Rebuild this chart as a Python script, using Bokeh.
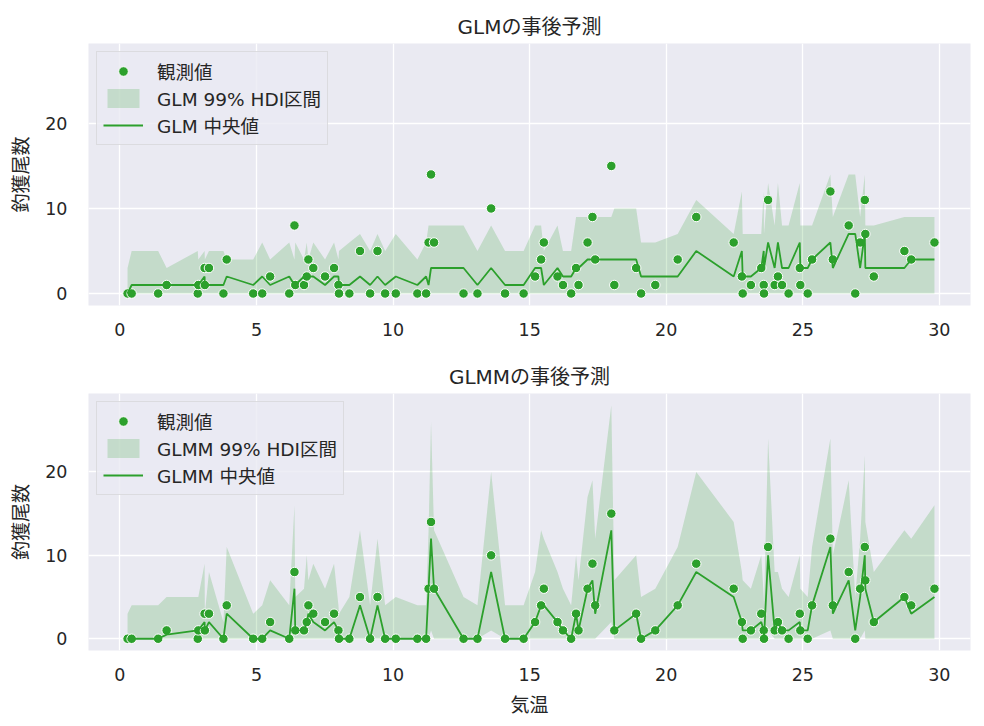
from bokeh.plotting import figure
from bokeh.layouts import column
from bokeh.models import FixedTicker, Legend, LegendItem, ColumnDataSource, Range1d
from bokeh.embed import file_html
from bokeh.resources import INLINE

# ---- data ----
temp = [0.28, 0.43, 1.40, 1.71, 2.85, 2.87, 3.10, 3.11, 3.26, 3.79,
        3.91, 4.88, 5.21, 5.50, 6.20, 6.39, 6.42, 6.74, 6.84, 6.90,
        7.08, 7.51, 7.84, 8.00, 8.02, 8.40, 8.79, 9.16, 9.43, 9.71,
        10.10, 10.89, 11.21, 11.30, 11.39, 11.50, 12.58, 13.09, 13.59, 14.10,
        14.78, 15.20, 15.42, 15.52, 16.02, 16.22, 16.52, 16.70, 16.79, 17.12,
        17.30, 17.40, 17.99, 18.10, 18.90, 19.08, 19.60, 20.42, 21.10, 22.47,
        22.77, 22.80, 23.10, 23.48, 23.57, 23.58, 23.73, 23.97, 24.09, 24.24,
        24.48, 24.89, 24.91, 25.18, 25.34, 26.01, 26.10, 26.68, 26.92, 27.10,
        27.27, 27.29, 27.60, 28.72, 28.97, 29.82]
catch = [0, 0, 0, 1, 0, 1, 3, 1, 3, 0,
         4, 0, 0, 2, 0, 8, 1, 1, 2, 4,
         3, 2, 3, 1, 0, 0, 5, 0, 5, 0,
         0, 0, 0, 6, 14, 6, 0, 0, 10, 0,
         0, 2, 4, 6, 2, 1, 0, 3, 1, 6,
         9, 4, 15, 1, 3, 0, 1, 4, 9, 6,
         2, 0, 1, 3, 1, 0, 11, 1, 2, 1,
         0, 3, 1, 0, 4, 12, 4, 8, 0, 6,
         11, 7, 2, 5, 4, 6]
glm_med = [0, 1, 1, 1, 1, 1, 2, 1, 1, 1,
           2, 1, 2, 1, 2, 1, 1, 2, 2, 2,
           2, 1, 2, 2, 1, 1, 2, 1, 2, 1,
           2, 1, 2, 1, 3, 3, 3, 1, 3, 1,
           1, 3, 3, 1, 3, 2, 2, 3, 3, 4,
           4, 4, 4, 4, 4, 2, 2, 2, 5, 2,
           5, 2, 2, 3, 5, 3, 6, 3, 6, 3,
           3, 6, 3, 3, 4, 6, 3, 7, 7, 3,
           7, 3, 3, 3, 4, 4]
glm_hi = [3, 5, 5, 3, 5, 4, 5, 4, 5, 5,
          4, 4, 6, 4, 6, 4, 6, 4, 6, 4,
          6, 4, 6, 4, 5, 6, 7, 5, 7, 5,
          7, 4, 6, 8, 8, 8, 8, 5, 8, 5,
          5, 8, 8, 5, 8, 5, 5, 9, 9, 9,
          9, 9, 9, 10, 10, 6, 6, 7, 11, 7,
          12, 7, 7, 7, 12, 7, 13, 8, 13, 8,
          8, 13, 8, 8, 8, 14, 9, 14, 14, 9,
          14, 8, 8, 9, 9, 9]
glm_lo = [0, 0, 0, 0, 0, 0, 0, 0, 0, 0,
          0, 0, 0, 0, 0, 0, 0, 0, 0, 0,
          0, 0, 0, 0, 0, 0, 0, 0, 0, 0,
          0, 0, 0, 0, 0, 0, 0, 0, 0, 0,
          0, 0, 0, 0, 0, 0, 0, 0, 0, 0,
          0, 0, 0, 0, 0, 0, 0, 0, 0, 0,
          0, 0, 0, 0, 0, 0, 0, 0, 0, 0,
          0, 0, 0, 0, 0, 0, 0, 0, 0, 0,
          0, 0, 0, 0, 0, 0]
glmm_med = [0, 0, 0, 0.5, 1, 1, 2, 1, 2, 0,
            3, 0, 0, 1, 0, 6, 1, 1, 2, 3,
            2, 1, 2, 1, 0, 0, 4, 0, 4, 0,
            0, 0, 0, 6, 12, 6, 0, 0, 8, 0,
            0, 2, 4, 4, 2, 1, 0, 3, 1, 6,
            7, 3, 13, 1, 3, 0, 1, 4, 8, 5,
            2, 1, 1, 2, 1, 0, 10, 1, 2, 1,
            1, 2, 1, 1, 4, 11, 3, 7, 1, 5,
            10, 6, 2, 5, 3, 5]
glmm_hi = [3, 4, 4, 5, 5, 5, 9, 3, 8, 2,
           11, 3, 4, 7, 4, 16, 5, 6, 10, 7,
           9, 6, 9, 4, 3, 5, 13, 4, 12, 4,
           5, 4, 4, 13, 26, 13, 5, 4, 20, 4,
           4, 8, 13, 12, 8, 6, 4, 10, 7, 17,
           19, 12, 28, 7, 10, 5, 6, 11, 20, 14,
           8, 7, 6, 10, 5, 4, 24, 8, 8, 6,
           5, 10, 6, 5, 11, 24, 10, 19, 5, 12,
           22, 14, 8, 13, 12, 16]
glmm_lo = [0, 0, 0, 0, 0, 0, 0, 0, 0, 0,
           0, 0, 0, 0, 0, 0, 0, 0, 0, 0,
           0, 0, 0, 0, 0, 0, 0, 0, 0, 0,
           0, 0, 0, 0, 1, 0, 0, 0, 1, 0,
           0, 0, 0, 0, 0, 0, 0, 0, 0, 0,
           0, 0, 2, 0, 0, 0, 0, 0, 0, 0,
           0, 0, 0, 0, 0, 0, 1, 0, 0, 0,
           0, 0, 0, 0, 0, 1, 0, 0, 0, 0,
           1, 0, 0, 0, 0, 0]

x_ticks = [0, 5, 10, 15, 20, 25, 30]
y_ticks = [0, 10, 20]
titles = ["GLMの事後予測", "GLMMの事後予測"]
labels_obs = "観測値"
labels_band = ["GLM 99% HDI区間", "GLMM 99% HDI区間"]
labels_med = ["GLM 中央値", "GLMM 中央値"]
x_label = "気温"
y_label = "釣獲尾数"

GREEN = "#2ca02c"
TEXT = "#262626"
FONT = "DejaVu Sans, Noto Sans CJK JP"
BG = "#EAEAF2"


def make_panel(idx, lo, hi, med, height, top, bottom, show_xlabel):
    src = ColumnDataSource(dict(x=temp, y=catch, lo=lo, hi=hi, med=med))
    p = figure(width=978, height=height,
               x_range=Range1d(-1.15, 31.14), y_range=Range1d(-1.41, 29.4),
               output_backend="svg", toolbar_location=None,
               min_border_left=88, min_border_right=8,
               min_border_top=top, min_border_bottom=bottom,
               background_fill_color=BG, border_fill_color="white",
               outline_line_color=None)
    p.title.text = titles[idx]
    p.title.align = "center"
    p.title.text_font = FONT
    p.title.text_font_size = "20px"
    p.title.text_font_style = "normal"
    p.title.text_color = TEXT
    p.title.standoff = 10

    band = p.varea(x="x", y1="lo", y2="hi", source=src,
                   fill_color=GREEN, fill_alpha=0.2)
    sc = p.scatter(x="x", y="y", source=src, size=9.5, marker="circle",
                   fill_color=GREEN, line_color="white", line_width=1)
    ln = p.line(x="x", y="med", source=src, line_color=GREEN, line_width=1.8)

    for ax in (p.xaxis, p.yaxis):
        ax.axis_line_color = None
        ax.major_tick_line_color = None
        ax.minor_tick_line_color = None
        ax.major_label_text_font = FONT
        ax.major_label_text_font_size = "17.5px"
        ax.major_label_text_color = TEXT
        ax.axis_label_text_font = FONT
        ax.axis_label_text_font_size = "19px"
        ax.axis_label_text_font_style = "normal"
        ax.axis_label_text_color = TEXT
    p.xaxis.ticker = FixedTicker(ticks=x_ticks)
    p.yaxis.ticker = FixedTicker(ticks=y_ticks)
    p.xaxis.major_label_standoff = 11
    p.yaxis.major_label_standoff = 15
    p.yaxis.axis_label = y_label
    p.yaxis.axis_label_standoff = 10
    if show_xlabel:
        p.xaxis.axis_label = x_label
        p.xaxis.axis_label_standoff = 10

    p.xgrid.grid_line_color = "white"
    p.ygrid.grid_line_color = "white"
    p.xgrid.grid_line_width = 1.3
    p.ygrid.grid_line_width = 1.3

    legend = Legend(items=[
        LegendItem(label=labels_obs, renderers=[sc]),
        LegendItem(label=labels_band[idx], renderers=[band]),
        LegendItem(label=labels_med[idx], renderers=[ln]),
    ], location="top_left")
    legend.margin = 8
    legend.padding = 6
    legend.spacing = 1
    legend.glyph_width = 40
    legend.glyph_height = 24
    legend.label_height = 16
    legend.label_standoff = 14
    legend.label_text_font = FONT
    legend.label_text_font_size = "18.5px"
    legend.label_text_color = TEXT
    legend.background_fill_color = BG
    legend.background_fill_alpha = 0.8
    legend.border_line_color = "#CCCCCC"
    legend.border_line_width = 1
    p.add_layout(legend)
    return p


p1 = make_panel(0, glm_lo, glm_hi, glm_med, 345, 43, 40, False)
p2 = make_panel(1, glmm_lo, glmm_hi, glmm_med, 373, 48, 65, True)

layout = column(p1, p2, spacing=0)
open("out.html", "w").write(file_html(layout, INLINE))
